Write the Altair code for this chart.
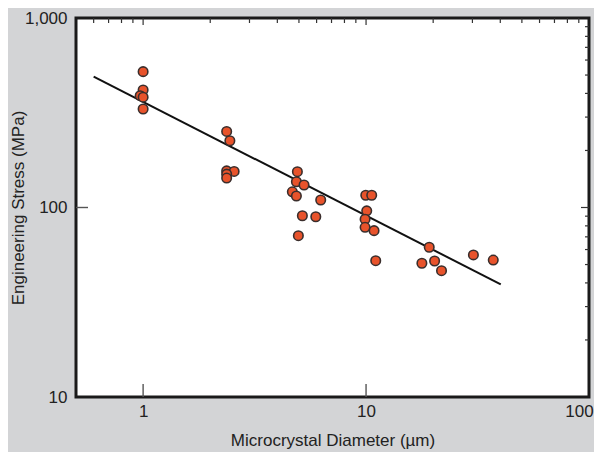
import altair as alt
import pandas as pd

# ---- data ----
diameter_um = [1.0, 1.0, 0.97, 1.0, 1.0,
               2.37, 2.45, 2.37, 2.56, 2.37, 2.37,
               4.92, 4.87, 5.27, 4.67, 4.87, 6.26, 5.18, 5.95, 4.97,
               9.97, 10.6, 10.07, 9.9, 9.9, 10.86, 11.05,
               19.2, 17.8, 20.3, 21.8, 30.3, 37.2]
stress_mpa = [521, 417, 389, 382, 331,
              252, 225, 156, 155, 150, 143,
              154.5, 136.8, 131.5, 121, 115, 109.6, 90.5, 89.4, 71,
              116, 116, 96, 86.7, 78.6, 75.5, 52.4,
              61.7, 50.8, 52.2, 46.4, 56.2, 52.8]
fit_diameter = [0.6, 40.2]
fit_stress = [490, 39.3]

x_label_values = [1, 10, 100]
y_label_values = [10, 100, 1000]
top_minor = [0.6, 0.7, 0.8, 0.9, 2, 3, 4, 5, 6, 7, 8, 9,
             20, 30, 40, 50, 60, 70, 80, 90]
top_major = [1, 10]
right_minor = [20, 30, 40, 50, 60, 70, 80, 90,
               200, 300, 400, 500, 600, 700, 800, 900]
right_major = [100]
bottom_major = [1, 10]
left_major = [100]

W, H = 513, 379
FONT = "Liberation Sans, Arial, Helvetica, sans-serif"
TXT = "#222222"

xs = alt.Scale(type="log", domain=[0.5, 100], nice=False)
ys = alt.Scale(type="log", domain=[10, 1000], nice=False)

xaxis = alt.Axis(values=x_label_values, format=",", ticks=False, domain=False,
                 grid=False, labelPadding=6, labelFlush=False, labelFontSize=17,
                 labelColor=TXT, labelFont=FONT,
                 labelOffset={"condition": {"test": "datum.value >= 100", "value": -10},
                              "value": 0},
                 title="Microcrystal Diameter (µm)", titleFontSize=17,
                 titleFont=FONT, titleColor=TXT, titleFontWeight="normal",
                 titleX=W / 2, titleY=48, titleBaseline="alphabetic",
                 titleAnchor="middle")
yaxis = alt.Axis(values=y_label_values, format=",", ticks=False, domain=False,
                 grid=False, labelPadding=9, labelFontSize=17, labelColor=TXT,
                 labelFont=FONT, labelFlush=False,
                 title="Engineering Stress (MPa)", titleFontSize=17,
                 titleFont=FONT, titleColor=TXT, titleFontWeight="normal",
                 titleX=-58, titleY=H / 2, titleBaseline="middle",
                 titleAngle=270, titleAnchor="middle")

X = lambda: alt.X("d:Q", scale=xs, axis=xaxis)
Y = lambda: alt.Y("s:Q", scale=ys, axis=yaxis)

pts = pd.DataFrame({"d": diameter_um, "s": stress_mpa})
fit = pd.DataFrame({"d": fit_diameter, "s": fit_stress})

line = alt.Chart(fit).mark_line(color="#111111", strokeWidth=2).encode(x=X(), y=Y())
points = alt.Chart(pts).mark_circle(size=90, opacity=1, color="#e8532b",
                                    stroke="#3a2e2c", strokeWidth=1.6).encode(x=X(), y=Y())

TICK = "#333333"

def xticks(vals, y0, y1, width=1.2, color=TICK):
    return alt.Chart(pd.DataFrame({"d": vals})).mark_rule(
        color=color, strokeWidth=width).encode(
        x=X(), y=alt.value(y0), y2=alt.value(y1))

def yticks(vals, x0, x1, width=1.2, color=TICK):
    return alt.Chart(pd.DataFrame({"s": vals})).mark_rule(
        color=color, strokeWidth=width).encode(
        y=Y(), x=alt.value(x0), x2=alt.value(x1))

layers = [
    xticks(top_minor, 0, 5),
    xticks(top_major, 0, 7),
    xticks(bottom_major, H, H - 13, 1.4, "#555555"),
    yticks(right_minor, W, W - 4),
    yticks(right_major, W, W - 8),
    yticks(left_major, 0, 12, 1.4, "#555555"),
    line,
    points,
]

chart = alt.layer(*layers).properties(
    width=W, height=H,
    autosize=alt.AutoSizeParams(type="none"),
    padding={"left": 68, "top": 10, "right": 5, "bottom": 55},
    background="#d3d4d6",
).configure_view(
    stroke="#1a1a1a", strokeWidth=3, fill="white"
)

chart.save("out.html", embed_options={"renderer": "svg", "actions": False})
